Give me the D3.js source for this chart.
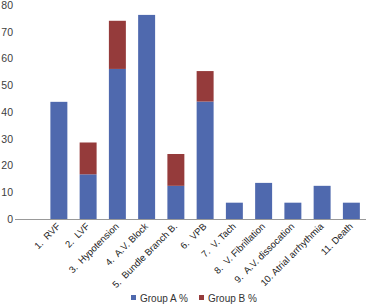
<!DOCTYPE html>
<html><head><meta charset="utf-8">
<script src="https://cdn.jsdelivr.net/npm/d3@7"></script>
<style>body{margin:0;background:#fff}svg{display:block}</style>
</head><body>
<script>
const categories = ["1.  RVF","2.  LVF","3.  Hypotension","4.  A.V. Block","5.  Bundle Branch B.","6.  VPB","7.  V. Tach","8.  V. Fibrillation","9.  A.V. dissocation","10. Atrial arrhythmia","11. Death"];
const groupA = [43.8, 16.7, 56.1, 76.3, 12.4, 43.9, 6.1, 13.5, 6.1, 12.4, 6.1];
const groupB = [0, 11.9, 18.0, 0, 11.9, 11.4, 0, 0, 0, 0, 0];
const seriesNames = ["Group A %", "Group B %"];
const yTicks = [0,10,20,30,40,50,60,70,80];
const colors = ["#4F69AE", "#953B3B"];

const W = 367, H = 307;
const svg = d3.select("body").append("svg").attr("width", W).attr("height", H);
const font = "'Liberation Sans', Arial, sans-serif";

const x0 = 15, x1 = 366;
const x = d3.scaleBand().domain(["", ...categories]).range([x0, x1]).paddingInner(0.42).paddingOuter(0.21);
const y = d3.scaleLinear().domain([0, 80]).range([219, 5]);

const stacked = d3.stack().keys([0,1]).value((d, k) => d[k])(categories.map((c, i) => [groupA[i], groupB[i]]));

stacked.forEach((layer, si) => {
  svg.append("g").selectAll("rect").data(layer).join("rect")
    .attr("x", (d, i) => x(categories[i]))
    .attr("width", x.bandwidth())
    .attr("y", d => y(d[1]))
    .attr("height", d => Math.max(0, y(d[0]) - y(d[1])))
    .attr("fill", colors[si]);
});

// y axis labels
const ya = svg.append("g").attr("transform", `translate(${x0 - 2},0)`)
  .call(d3.axisLeft(y).tickValues(yTicks).tickSize(0).tickPadding(0));
ya.select(".domain").remove();
ya.selectAll("text").attr("font-family", font).attr("font-size", 10.5).attr("fill", "#404040").attr("text-anchor", "end");

// x axis line
svg.append("line").attr("x1", x0).attr("x2", x1).attr("y1", y(0)+0.5).attr("y2", y(0)+0.5)
  .attr("stroke", "#999").attr("stroke-width", 1);

// x labels
svg.append("g").selectAll("text").data(categories).join("text")
  .attr("transform", d => `translate(${x(d) + x.bandwidth()/2 + 2},${y(0) + 8}) rotate(-45)`)
  .attr("text-anchor", "end")
  .attr("font-family", font).attr("font-size", 9.5).attr("fill", "#222")
  .style("white-space", "pre")
  .text(d => d);

// legend
const legendX = [131, 199];
seriesNames.forEach((n, i) => {
  svg.append("rect").attr("x", legendX[i]).attr("y", 295).attr("width", 5).attr("height", 5).attr("fill", colors[i]);
  svg.append("text").attr("x", legendX[i] + 9).attr("y", 301.5)
    .attr("font-family", font).attr("font-size", 10).attr("fill", "#333").text(n);
});
</script>
</body></html>
